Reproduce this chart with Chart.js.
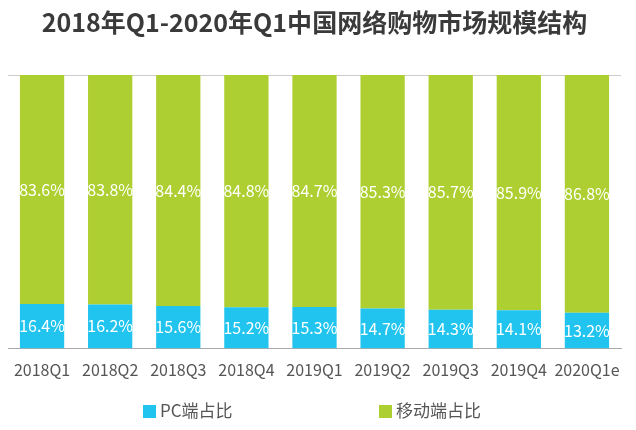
<!DOCTYPE html>
<html>
<head>
<meta charset="utf-8">
<script src="https://cdn.jsdelivr.net/npm/chart.js@4"></script>
<style>
  html, body { margin: 0; padding: 0; background: #fff; }
  #wrap { width: 636px; height: 430px; position: relative; }
</style>
</head>
<body>
<div id="wrap"><canvas id="chart"></canvas></div>
<script>
// Chart values
const quarters = ['2018Q1', '2018Q2', '2018Q3', '2018Q4', '2019Q1', '2019Q2', '2019Q3', '2019Q4', '2020Q1e'];
const pcShare = [16.4, 16.2, 15.6, 15.2, 15.3, 14.7, 14.3, 14.1, 13.2];
const mobileShare = [83.6, 83.8, 84.4, 84.8, 84.7, 85.3, 85.7, 85.9, 86.8];
const seriesNames = ['PC端占比', '移动端占比'];

const fontFamily = '"Noto Sans CJK SC", "Open Sans", sans-serif';
const blue = '#21c4ee';
const green = '#aecf31';

// Write the % value inside each bar segment
const valueLabels = {
    id: 'valueLabels',
    afterDatasetsDraw (chart) {
        const ctx = chart.ctx;
        ctx.save();
        ctx.font = '16px ' + fontFamily;
        ctx.fillStyle = '#ffffff';
        ctx.textAlign = 'center';
        ctx.textBaseline = 'middle';
        chart.data.datasets.forEach((ds, i) => {
            chart.getDatasetMeta(i).data.forEach((bar, j) => {
                const mid = (bar.y + bar.base) / 2;
                ctx.fillText(ds.data[j].toFixed(1) + '%', bar.x, mid);
            });
        });
        ctx.restore();
    }
};

// Legend spread out under the axis, like the original
const wideLegend = {
    id: 'wideLegend',
    afterDraw (chart) {
        const ctx = chart.ctx;
        const spots = [143, 379];
        ctx.save();
        ctx.font = '17px ' + fontFamily;
        ctx.textBaseline = 'middle';
        ctx.textAlign = 'left';
        chart.data.datasets.forEach((ds, i) => {
            ctx.fillStyle = ds.backgroundColor;
            ctx.fillRect(spots[i], 405, 13, 13);
            ctx.fillStyle = '#555555';
            ctx.fillText(ds.label, spots[i] + 17, 411);
        });
        ctx.restore();
    }
};

new Chart(document.getElementById('chart'), {
    type: 'bar',
    data: {
        labels: quarters,
        datasets: [
            { label: seriesNames[0], data: pcShare, backgroundColor: blue },
            { label: seriesNames[1], data: mobileShare, backgroundColor: green }
        ]
    },
    options: {
        responsive: true,
        maintainAspectRatio: false,
        animation: false,
        layout: { padding: { left: 8, right: 15, top: 0, bottom: 38 } },
        datasets: { bar: { categoryPercentage: 1, barPercentage: 0.65 } },
        plugins: {
            legend: { display: false },
            tooltip: { enabled: false },
            title: {
                display: true,
                text: '2018年Q1-2020年Q1中国网络购物市场规模结构',
                color: '#3a3a3a',
                font: { size: 25, weight: 'bold', family: fontFamily },
                padding: { top: 7, bottom: 38 }
            }
        },
        scales: {
            x: {
                stacked: true,
                grid: { display: false, drawTicks: false },
                border: { display: true, color: '#aaaaaa', width: 1 },
                ticks: {
                    color: '#555555',
                    padding: 12,
                    autoSkip: false,
                    minRotation: 0,
                    maxRotation: 0,
                    font: { size: 16, family: fontFamily }
                }
            },
            y: {
                stacked: true,
                min: 0,
                max: 100,
                ticks: { display: false, stepSize: 100 },
                border: { display: false },
                grid: {
                    drawTicks: false,
                    color: (c) => c.tick && c.tick.value === 100 ? '#cccccc' : 'rgba(0,0,0,0)'
                }
            }
        }
    },
    plugins: [valueLabels, wideLegend]
});
</script>
</body>
</html>
